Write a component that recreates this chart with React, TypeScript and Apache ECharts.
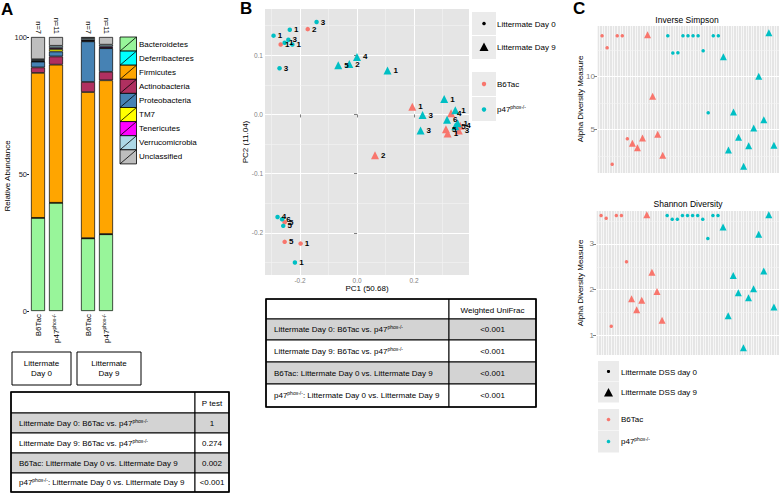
import React, { useEffect, useRef } from "react";
import * as echarts from "echarts";

const FONT = "'Liberation Sans', Arial, Helvetica, sans-serif";
const RED = "#F8766D";
const TEAL = "#00BFC4";
const PANEL_BG = "#E5E5E5";
const MINOR = "#F3F3F3";
const TICK_GRAY = "#7F7F7F";

// ---------------- Panel A: relative abundance ----------------
const phyla = [
  "Bacteroidetes",
  "Deferribacteres",
  "Firmicutes",
  "Actinobacteria",
  "Proteobacteria",
  "TM7",
  "Tenericutes",
  "Verrucomicrobia",
  "Unclassified",
];
const phylaColors = [
  "#98F59A",
  "#00FFFF",
  "#FFA500",
  "#B03060",
  "#4682B4",
  "#FFFF00",
  "#FF00FF",
  "#ADD8E6",
  "#BEBEBE",
];
const barCategories = ["B6Tac", "p47"];
const groupSizes = ["n=7", "n=11"];
const groupBoxes = ["Littermate\nDay 0", "Littermate\nDay 9"];
// order of bars: Day0 B6Tac, Day0 p47, Day9 B6Tac, Day9 p47
const bacteroidetes = [34.0, 39.5, 26.5, 28.0];
const deferribacteres = [0, 0, 0.1, 0.1];
const firmicutes = [52.9, 50.4, 53.3, 56.1];
const actinobacteria = [2.0, 3.0, 3.7, 3.1];
const proteobacteria = [2.1, 1.8, 14.8, 8.6];
const tm7 = [0.2, 0.9, 0.2, 0.2];
const tenericutes = [0.2, 0.4, 0.3, 0.4];
const verrucomicrobia = [0.5, 0.8, 0.7, 0.7];
const unclassified = [8.1, 3.2, 0.4, 2.8];
const abundance = [
  bacteroidetes,
  deferribacteres,
  firmicutes,
  actinobacteria,
  proteobacteria,
  tm7,
  tenericutes,
  verrucomicrobia,
  unclassified,
];
const abundanceTicks = [0, 50, 100];

// ---------------- Tables ----------------
const comparisons = [
  "Littermate Day 0: B6Tac vs. p47{s|phox-/-}",
  "Littermate Day 9: B6Tac vs. p47{s|phox-/-}",
  "B6Tac: Littermate Day 0 vs. Littermate Day 9",
  "p47{s|phox-/-}: Littermate Day 0 vs. Littermate Day 9",
];
const pTestValues = ["1", "0.274", "0.002", "<0.001"];
const unifracValues = ["<0.001", "<0.001", "<0.001", "<0.001"];

// ---------------- Panel B: PCoA ----------------
const pcoaB6Day0 = [
  [-0.268, 0.118, "1"],
  [-0.173, 0.144, "2"],
  [-0.254, -0.182, "5"],
  [-0.254, -0.215, "5"],
  [-0.198, -0.218, "1"],
];
const pcoaP47Day0 = [
  [-0.293, 0.133, "1"],
  [-0.236, 0.143, "1"],
  [-0.142, 0.156, "3"],
  [-0.254, 0.121, "1"],
  [-0.241, 0.126, "3"],
  [-0.227, 0.118, "1"],
  [-0.272, 0.078, "3"],
  [-0.279, -0.173, "4"],
  [-0.263, -0.177, "6"],
  [-0.259, -0.188, "5"],
  [-0.218, -0.25, "1"],
];
const pcoaB6Day9 = [
  [0.194, 0.013, "1"],
  [0.063, -0.069, "2"],
  [0.33, 0.002, "4"],
  [0.362, -0.019, "4"],
  [0.312, -0.025, "5"],
  [0.318, -0.032, "1"],
  [0.357, -0.027, "3"],
];
const pcoaP47Day9 = [
  [-0.066, 0.083, "5"],
  [-0.027, 0.085, "2"],
  [0.0, 0.097, "4"],
  [0.107, 0.074, "1"],
  [0.23, -0.001, "3"],
  [0.223, -0.027, "3"],
  [0.306, 0.026, "1"],
  [0.345, 0.007, "1"],
  [0.316, -0.009, "6"],
  [0.353, -0.015, "1"],
  [0.345, -0.02, "5"],
];
const pcoaXTicks = [-0.2, 0, 0.2];
const pcoaYTicks = [-0.2, -0.1, 0, 0.1];
const pcoaXMinor = [-0.3, -0.1, 0.1, 0.3];
const pcoaYMinor = [-0.25, -0.15, -0.05, 0.05, 0.15];

// ---------------- Panel C: alpha diversity ----------------
const invSimpB6Day0 = [13.84, 12.7, 1.7, 13.84, 13.84, 4.12];
const invSimpB6Day9 = [3.68, 3.27, 4.18, 13.93, 8.11, 4.53, 2.55];
const invSimpP47Day0 = [13.84, 12.2, 12.23, 13.84, 13.84, 13.84, 13.84, 12.42, 6.57, 13.84, 13.84];
const invSimpP47Day9 = [11.86, 3.05, 6.64, 4.25, 1.51, 3.46, 5.13, 10.0, 5.91, 14.12, 3.49];
const shannonB6Day0 = [3.62, 3.56, 1.2, 3.62, 3.62, 2.61];
const shannonB6Day9 = [1.8, 1.56, 1.77, 3.64, 2.38, 1.96, 1.33];
const shannonP47Day0 = [3.62, 3.54, 3.54, 3.62, 3.62, 3.62, 3.62, 3.54, 3.12, 3.62, 3.62];
const shannonP47Day9 = [3.37, 1.43, 2.31, 1.93, 0.73, 1.82, 2.02, 3.21, 2.41, 3.64, 1.62];
const invSimpTicks = [5, 10];
const invSimpMinor = [2.5, 7.5, 12.5];
const shannonTicks = [1, 2, 3];
const shannonMinor = [1.5, 2.5, 3.5];

// ---------------- helpers ----------------
const supRichAxis = {
  s: { fontSize: 5, color: "#000", fontFamily: FONT, verticalAlign: "top", lineHeight: 10 },
};
const supRichGraphic = {
  s: { fontSize: 5, fill: "#000", fontFamily: FONT, verticalAlign: "top", lineHeight: 10 },
};

function txt(text: string, x: number, y: number, o: any = {}) {
  return {
    type: "text",
    x,
    y,
    rotation: o.rotation || 0,
    z: 50,
    silent: true,
    style: {
      text,
      fill: o.fill || "#000",
      fontSize: o.fontSize || 8,
      fontFamily: FONT,
      fontWeight: o.fontWeight || "normal",
      align: o.align || "left",
      verticalAlign: o.verticalAlign || "middle",
      lineHeight: o.lineHeight,
      rich: supRichGraphic,
    },
  };
}

function rect(x: number, y: number, w: number, h: number, fill: string, stroke: string | null, lw = 1) {
  return {
    type: "rect",
    z: 40,
    silent: true,
    shape: { x, y, width: w, height: h },
    style: { fill, stroke: stroke || "none", lineWidth: lw },
  };
}

function table(x0: number, x1: number, x2: number, ys: number[], header: string, values: string[]) {
  const els: any[] = [];
  for (let r = 0; r <= comparisons.length; r++) {
    const y = ys[r];
    const h = ys[r + 1] - ys[r];
    const fill = r === 1 || r === 3 ? "#D3D3D3" : "#FFFFFF";
    els.push(rect(x0, y, x1 - x0, h, fill, "#000", 1));
    els.push(rect(x1, y, x2 - x1, h, fill, "#000", 1));
    if (r === 0) {
      els.push(txt(header, (x1 + x2) / 2, y + h / 2 + 1, { align: "center", fontSize: 8 }));
    } else {
      els.push(txt(comparisons[r - 1], x0 + 8, y + h / 2, { fontSize: 8 }));
      els.push(txt(values[r - 1], (x1 + x2) / 2, y + h / 2, { align: "center", fontSize: 8 }));
    }
  }
  els.push(rect(x0, ys[0], x2 - x0, ys[ys.length - 1] - ys[0], "none", "#000", 1.6));
  return els;
}

function genotypeFmt(v: string) {
  return v === "p47" ? "p47{s|phox-/-}" : v;
}

function minorLines(axis: "xAxis" | "yAxis", vals: number[]) {
  return vals.map((v) => ({ [axis]: v }));
}

function buildOption() {
  const grids = [
    { left: 29, top: 37, width: 36, height: 274 },
    { left: 79, top: 37, width: 36, height: 274 },
    { left: 265, top: 9, width: 204, height: 266, show: true, backgroundColor: PANEL_BG, borderWidth: 0 },
    { left: 597, top: 26, width: 182, height: 147, show: true, backgroundColor: PANEL_BG, borderWidth: 0 },
    { left: 596, top: 211, width: 183, height: 144, show: true, backgroundColor: PANEL_BG, borderWidth: 0 },
  ];

  const catBottom = (gridIndex: number) => ({
    type: "category",
    gridIndex,
    data: barCategories,
    position: "bottom",
    axisLine: { show: false },
    axisTick: { show: false },
    axisLabel: { rotate: 90, fontSize: 8, color: "#000", margin: 3, formatter: genotypeFmt, rich: supRichAxis },
  });
  const catTop = (gridIndex: number) => ({
    type: "category",
    gridIndex,
    data: groupSizes,
    position: "top",
    axisLine: { show: false },
    axisTick: { show: false },
    axisLabel: { rotate: 90, fontSize: 7.5, color: "#000", margin: 3 },
  });
  const cX = (gridIndex: number) => ({
    type: "value",
    gridIndex,
    min: 0,
    max: 36,
    interval: 0.5,
    axisLine: { show: false },
    axisTick: { show: false },
    axisLabel: { show: false },
    splitLine: { show: true, lineStyle: { color: "#FFFFFF", width: 0.7 } },
  });
  const grayValueAxis = (gridIndex: number, min: number, max: number, ticks: number[], fs: number, fmt: (v: number) => string) => ({
    type: "value",
    gridIndex,
    min,
    max,
    splitNumber: 3,
    axisLine: { show: false },
    axisTick: { show: true, length: 3, lineStyle: { color: TICK_GRAY }, customValues: ticks },
    axisLabel: { fontSize: fs, color: TICK_GRAY, margin: 2, formatter: fmt, customValues: ticks },
    splitLine: { show: true, lineStyle: { color: "#FFFFFF", width: 1 } },
  });

  const xAxis = [
    catBottom(0),
    catTop(0),
    catBottom(1),
    catTop(1),
    { ...grayValueAxis(2, -0.323, 0.393, pcoaXTicks, 6.5, (v: number) => v.toFixed(1)), splitNumber: 3 },
    cX(3),
    cX(4),
  ];
  const yAxis = [
    {
      type: "value",
      gridIndex: 0,
      min: 0,
      max: 100,
      interval: 50,
      axisLine: { show: false },
      axisTick: { show: true, length: 2, lineStyle: { color: "#222" } },
      axisLabel: { fontSize: 7.5, color: "#222", margin: 2, customValues: abundanceTicks },
      splitLine: { show: false },
    },
    { type: "value", gridIndex: 1, min: 0, max: 100, interval: 50, show: false },
    { ...grayValueAxis(2, -0.271, 0.178, pcoaYTicks, 6.5, (v: number) => v.toFixed(1)), splitNumber: 4 },
    grayValueAxis(3, 0.88, 14.75, invSimpTicks, 8, (v: number) => String(v)),
    grayValueAxis(4, 0.57, 3.72, shannonTicks, 8, (v: number) => String(v)),
  ];

  const series: any[] = [];
  // Panel A stacked bars
  [0, 1].forEach((g) => {
    phyla.forEach((name, p) => {
      series.push({
        type: "bar",
        name,
        xAxisIndex: g === 0 ? 0 : 2,
        yAxisIndex: g,
        stack: "grp" + g,
        barWidth: 14,
        data: abundance[p].slice(g * 2, g * 2 + 2),
        itemStyle: { color: phylaColors[p], borderColor: "#000", borderWidth: 0.7 },
      });
    });
  });

  // Panel B scatter
  const pcoaLabel = {
    show: true,
    position: "right",
    distance: 2,
    fontSize: 8,
    fontWeight: "bold",
    color: "#000",
    formatter: (p: any) => String(p.value[2]),
  };
  const pcoaSets: [any[], string, string, number][] = [
    [pcoaB6Day0, RED, "circle", 4.5],
    [pcoaP47Day0, TEAL, "circle", 4.5],
    [pcoaB6Day9, RED, "triangle", 8],
    [pcoaP47Day9, TEAL, "triangle", 8],
  ];
  pcoaSets.forEach(([data, color, symbol, size], i) => {
    const s: any = {
      type: "scatter",
      xAxisIndex: 4,
      yAxisIndex: 2,
      z: 3,
      symbol,
      symbolSize: size,
      itemStyle: { color, opacity: 1 },
      label: pcoaLabel,
      data,
    };
    if (i === 0) {
      s.markLine = {
        silent: true,
        z: 1,
        symbol: ["none", "none"],
        label: { show: false },
        lineStyle: { color: MINOR, width: 0.6, type: "solid" },
        data: [...minorLines("xAxis", pcoaXMinor), ...minorLines("yAxis", pcoaYMinor)],
      };
    }
    series.push(s);
  });

  // Panel C
  const cPanels: [number[][], number[], number][] = [
    [[invSimpB6Day0, invSimpB6Day9, invSimpP47Day0, invSimpP47Day9], invSimpMinor, 3],
    [[shannonB6Day0, shannonB6Day9, shannonP47Day0, shannonP47Day9], shannonMinor, 4],
  ];
  const cStyle: [string, string, number][] = [
    [RED, "circle", 3.5],
    [RED, "triangle", 7],
    [TEAL, "circle", 3.5],
    [TEAL, "triangle", 7],
  ];
  cPanels.forEach(([groups, minor, axisIdx]) => {
    let start = 1;
    groups.forEach((vals, gi) => {
      const data = vals.map((v, i) => [start + i, v]);
      start += vals.length;
      const s: any = {
        type: "scatter",
        xAxisIndex: axisIdx + 2,
        yAxisIndex: axisIdx,
        z: 3,
        symbol: cStyle[gi][1],
        symbolSize: cStyle[gi][2],
        itemStyle: { color: cStyle[gi][0], opacity: 1 },
        data,
      };
      if (gi === 0) {
        s.markLine = {
          silent: true,
          z: 1,
          symbol: ["none", "none"],
          label: { show: false },
          lineStyle: { color: MINOR, width: 0.6, type: "solid" },
          data: minorLines("yAxis", minor),
        };
      }
      series.push(s);
    });
  });

  // ---------------- graphics ----------------
  const g: any[] = [];
  g.push(txt("A", 1, 9, { fontSize: 17, fontWeight: "bold" }));
  g.push(txt("B", 240, 8, { fontSize: 17, fontWeight: "bold" }));
  g.push(txt("C", 573, 8, { fontSize: 17, fontWeight: "bold" }));

  // Panel A
  g.push(txt("Relative Abundance", 7, 176, { rotation: Math.PI / 2, align: "center", fontSize: 8 }));
  const keyH = 14.1;
  phyla.forEach((name, i) => {
    const y = 37 + i * keyH;
    g.push(rect(120, y, 16.5, keyH, phylaColors[i], "#000", 0.8));
    g.push({
      type: "line",
      z: 41,
      silent: true,
      shape: { x1: 120, y1: y + keyH, x2: 136.5, y2: y },
      style: { stroke: "#000", lineWidth: 0.8 },
    });
    g.push(txt(name, 139, y + keyH / 2, { fontSize: 8 }));
  });
  const boxX = [
    [12, 59],
    [77, 64],
  ];
  groupBoxes.forEach((label, i) => {
    g.push(rect(boxX[i][0], 352, boxX[i][1], 33, "#FFFFFF", "#000", 1));
    g.push(txt(label, boxX[i][0] + boxX[i][1] / 2, 368.5, { align: "center", fontSize: 8, lineHeight: 10 }));
  });
  g.push(...table(11, 195, 229, [392, 413, 433, 453, 473, 492], "P test", pTestValues));

  // Panel B
  g.push(txt("PC1 (50.68)", 367, 288, { align: "center", fontSize: 8 }));
  g.push(txt("PC2 (11.04)", 245, 142, { rotation: Math.PI / 2, align: "center", fontSize: 8 }));
  g.push(rect(472, 12, 24, 23, "#EBEBEB", null));
  g.push(rect(472, 36, 24, 23, "#EBEBEB", null));
  g.push(rect(472, 72, 24, 24, "#EBEBEB", null));
  g.push(rect(472, 97, 24, 24, "#EBEBEB", null));
  g.push({ type: "circle", z: 45, shape: { cx: 484, cy: 23.5, r: 1.8 }, style: { fill: "#000" } });
  g.push({ type: "polygon", z: 45, shape: { points: [[484, 42.5], [488.5, 51], [479.5, 51]] }, style: { fill: "#000" } });
  g.push({ type: "circle", z: 45, shape: { cx: 484, cy: 84, r: 2.2 }, style: { fill: RED } });
  g.push({ type: "circle", z: 45, shape: { cx: 484, cy: 109.5, r: 2.2 }, style: { fill: TEAL } });
  g.push(txt("Littermate Day 0", 497, 24.5, { fontSize: 8 }));
  g.push(txt("Littermate Day 9", 497, 47.5, { fontSize: 8 }));
  g.push(txt("B6Tac", 497, 84, { fontSize: 8 }));
  g.push(txt("p47{s|phox-/-}", 497, 109.5, { fontSize: 8 }));
  g.push(...table(266, 449, 536, [299, 319, 340, 362, 384, 407], "Weighted UniFrac", unifracValues));

  // Panel C
  g.push(txt("Inverse Simpson", 687, 20, { align: "center", fontSize: 8.5 }));
  g.push(txt("Shannon Diversity", 688, 204, { align: "center", fontSize: 8.5 }));
  g.push(txt("Alpha Diversity Measure", 580, 99, { rotation: Math.PI / 2, align: "center", fontSize: 8 }));
  g.push(txt("Alpha Diversity Measure", 580, 283, { rotation: Math.PI / 2, align: "center", fontSize: 8 }));
  g.push(rect(598, 361, 21, 20.5, "#EBEBEB", null));
  g.push(rect(598, 382, 21, 20.5, "#EBEBEB", null));
  g.push(rect(598, 409, 21, 21.5, "#EBEBEB", null));
  g.push(rect(598, 431, 21, 21.5, "#EBEBEB", null));
  g.push({ type: "circle", z: 45, shape: { cx: 608.5, cy: 371.5, r: 1.6 }, style: { fill: "#000" } });
  g.push({ type: "polygon", z: 45, shape: { points: [[608.5, 388], [613, 396.5], [604, 396.5]] }, style: { fill: "#000" } });
  g.push({ type: "circle", z: 45, shape: { cx: 608.5, cy: 419.5, r: 1.8 }, style: { fill: RED } });
  g.push({ type: "circle", z: 45, shape: { cx: 608.5, cy: 441.5, r: 1.8 }, style: { fill: TEAL } });
  g.push(txt("Littermate DSS day 0", 621, 372, { fontSize: 8 }));
  g.push(txt("Littermate DSS day 9", 621, 392.5, { fontSize: 8 }));
  g.push(txt("B6Tac", 621, 419.5, { fontSize: 8 }));
  g.push(txt("p47{s|phox-/-}", 621, 441.5, { fontSize: 8 }));

  return {
    animation: false,
    backgroundColor: "#FFFFFF",
    textStyle: { fontFamily: FONT },
    grid: grids,
    xAxis,
    yAxis,
    series,
    graphic: { elements: g },
  };
}

export default function App() {
  const ref = useRef<HTMLDivElement>(null);
  useEffect(() => {
    if (!ref.current) return;
    const chart = echarts.init(ref.current, undefined, { renderer: "svg" });
    chart.setOption(buildOption() as any);
    return () => chart.dispose();
  }, []);
  return (
    <div
      ref={ref}
      style={{ position: "absolute", left: 0, top: 0, width: 779, height: 493, background: "#fff" }}
    />
  );
}
